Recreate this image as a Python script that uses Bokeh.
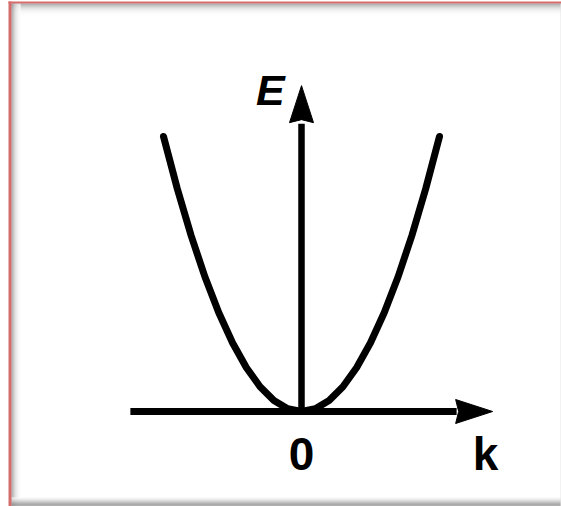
from bokeh.plotting import figure
from bokeh.models import Range1d, ColumnDataSource
from bokeh.core.properties import value
from bokeh.embed import file_html
from bokeh.resources import INLINE

# ---- data (E = k^2 dispersion, schematic) ----
k_vals = [-1.0, -0.9, -0.8, -0.7, -0.6, -0.5, -0.4, -0.3, -0.2, -0.1, 0.0,
          0.1, 0.2, 0.3, 0.4, 0.5, 0.6, 0.7, 0.8, 0.9, 1.0]
E_vals = [1.0, 0.81, 0.64, 0.49, 0.36, 0.25, 0.16, 0.09, 0.04, 0.01, 0.0,
          0.01, 0.04, 0.09, 0.16, 0.25, 0.36, 0.49, 0.64, 0.81, 1.0]
k_axis = [-1.24, 1.385]      # extent of the k arrow (tail, tip)
E_axis = [0.0, 1.185]        # extent of the E arrow (tail, tip)
labels = ["E", "0", "k"]
label_k = [-0.225, 0.0, 1.333]
label_E = [1.168, -0.156, -0.156]

# ---- layout / styling ----
W, H = 561, 506
K_PX, E_PY = 301.0, 411.0      # pixel of the origin
SK, SE = 138.0, 275.0          # pixels per unit


def kx(px):
    return (px - K_PX) / SK


def ey(py):
    return (E_PY - py) / SE


p = figure(width=W, height=H, output_backend="svg", toolbar_location=None,
           x_range=Range1d(kx(0), kx(W)),
           y_range=Range1d(ey(H), ey(0)),
           x_axis_type=None, y_axis_type=None, min_border=0,
           background_fill_color="white", border_fill_color="white")
p.grid.visible = False
p.outline_line_color = None

# ---- frame decoration (border + inner shadow) ----
def vline(px, color, w=1, y0=1, y1=506):
    p.segment(x0=[kx(px)], y0=[ey(y0)], x1=[kx(px)], y1=[ey(y1)],
              line_color=color, line_width=w)


def hline(py, color, w=1, x0=8, x1=561):
    p.segment(x0=[kx(x0)], y0=[ey(py)], x1=[kx(x1)], y1=[ey(py)],
              line_color=color, line_width=w)


top_shades = ["#8c8c8c", "#a2a2a2", "#b6b6b6", "#c6c6c6", "#d4d4d4", "#dfdfdf",
              "#e8e8e8", "#efefef", "#f4f4f4", "#f8f8f8", "#fbfbfb", "#fdfdfd"]
for i, c in enumerate(top_shades):
    hline(3.5 + i, c, x0=11)
left_shades = ["#909090", "#a8a8a8", "#bebebe", "#d0d0d0", "#dedede", "#e9e9e9",
               "#f1f1f1", "#f7f7f7", "#fbfbfb"]
for i, c in enumerate(left_shades):
    vline(11.5 + i, c, y0=3)
bottom_shades = ["#f6f6f6", "#ececec", "#dedede", "#cdcdcd", "#bababa", "#a6a6a6",
                 "#959595", "#8a8a8a", "#9a9a9a"]
for i, c in enumerate(bottom_shades):
    hline(497.5 + i, c, x0=11)
vline(560.5, "#e4e4e4", y0=3)
hline(2.0, "#d46c6c", 2)
vline(9.5, "#d46c6c", 3)

# ---- curve ----
src = ColumnDataSource(dict(k=k_vals, E=E_vals))
p.line("k", "E", source=src, line_color="black", line_width=7,
       line_join="round", line_cap="round")

# ---- axes with arrows ----
HEAD_LEN, HEAD_W, NOTCH = 37.0, 24.0, 3.0   # pixels
# k axis
k_tip = k_axis[1]
k_base = k_tip - HEAD_LEN / SK
p.line([k_axis[0], k_base + 1 / SK], [0, 0], line_color="black", line_width=7)
p.patch([k_tip, k_base, k_base + NOTCH / SK, k_base],
        [0, HEAD_W / 2 / SE, 0, -HEAD_W / 2 / SE], color="black")
# E axis
E_tip = E_axis[1]
E_base = E_tip - HEAD_LEN / SE
p.line([0, 0], [E_axis[0] - 3 / SE, E_base - 1 / SE], line_color="black", line_width=6.5)
p.patch([0, HEAD_W / 2 / SK, 0, -HEAD_W / 2 / SK],
        [E_tip, E_base, E_base + NOTCH / SE, E_base], color="black")

# ---- labels ----
p.text(x=[label_k[0]], y=[label_E[0]], text=[labels[0]],
       text_font=value("Liberation Sans"), text_font_size="43px",
       text_font_style="bold italic", text_align="center",
       text_baseline="middle", text_color="black")
p.text(x=label_k[1:], y=label_E[1:], text=labels[1:],
       text_font=value("Liberation Sans"), text_font_size="46px",
       text_font_style="bold", text_align="center",
       text_baseline="middle", text_color="black")

open("out.html", "w").write(file_html(p, INLINE))
